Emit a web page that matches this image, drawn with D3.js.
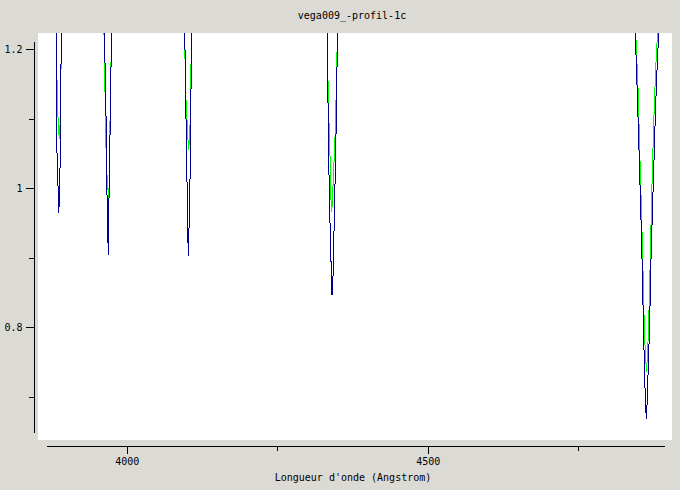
<!DOCTYPE html>
<html><head><meta charset="utf-8">
<script src="https://cdn.jsdelivr.net/npm/d3@7"></script>
<style>
html,body{margin:0;padding:0;background:#dcdad5;}
svg{display:block;}
text{font-family:"DejaVu Sans Mono",monospace;font-size:10px;fill:#000;}
</style></head>
<body>
<script>
// ---- data (wavelength in Angstrom, normalised flux); null separates the Balmer lines ----
const titleText = "vega009_-profil-1c";
const xLabel = "Longueur d'onde (Angstrom)";
const xMajorTicks = [4000, 4500];
const xMinorTicks = [4250, 4750];
const yMajorTicks = [0.8, 1.0, 1.2];
const yMinorTicks = [0.7, 0.9, 1.1];
const yTickLabels = ["0.8", "1", "1.2"];

// observed profile (blue)
const obsWave = [
  3882.8, 3883.1, 3883.4, 3886.3, 3887.1, 3888.8, 3890.1, 3891.4, 3891.7, null,
  3962.5, 3962.8, 3965.2, 3966.2, 3967.8, 3969.5, 3970.2, 3970.7, 3972.3, 3974.0, 3974.5, 3974.8, null,
  4096.6, 4096.9, 4098.5, 4100.7, 4101.9, 4102.5, 4103.2, 4103.5, 4105.2, 4106.9, 4107.2, 4107.4, null,
  4333.0, 4333.2, 4333.6, 4334.9, 4336.6, 4339.1, 4341.0, 4342.2, 4344.4, 4345.5, 4347.7, 4349.4, 4350.5, 4350.8, null,
  4844.3, 4844.8, 4848.2, 4851.0, 4854.3, 4856.5, 4858.1, 4859.8, 4861.5, 4863.1,
  4864.3, 4865.4, 4867.1, 4868.9, 4870.4, 4872.6, 4875.4, 4878.4, 4880.9, 4883.7, 4884.3
];
const obsFlux = [
  1.26, 1.2235, 1.0753, 0.9932, 0.9649, 0.9918, 1.094, 1.2235, 1.26, null,
  1.26, 1.2134, 1.1487, 1.0552, 0.9645, 0.9041, 0.9314, 0.9904, 1.0739, 1.176, 1.2235, 1.26, null,
  1.26, 1.199, 1.1026, 0.9832, 0.9213, 0.9026, 0.9213, 0.9415, 1.012, 1.1458, 1.2235, 1.26, null,
  1.26, 1.2235, 1.1875, 1.0839, 0.9904, 0.9041, 0.8465, 0.8537, 0.9401, 0.9832, 1.0767, 1.176, 1.2235, 1.26, null,
  1.26, 1.2235, 1.1343, 1.0552, 0.9545, 0.8825, 0.8135, 0.7487, 0.6969, 0.6681,
  0.6882, 0.717, 0.7602, 0.8135, 0.8825, 0.9473, 1.0264, 1.1128, 1.1703, 1.2235, 1.26
];

// synthetic profile (green)
const modWave = [
  3882.8, 3883.1, 3883.8, 3886.4, 3888.1, 3890.4, 3891.4, 3891.7, null,
  3962.0, 3962.3, 3962.8, 3966.2, 3969.0, 3969.7, 3971.0, 3971.8, 3974.0, 3974.3, 3974.6, null,
  4096.1, 4096.4, 4097.4, 4100.2, 4101.9, 4102.7, 4104.4, 4106.0, 4106.9, 4107.0, 4107.3, null,
  4332.9, 4333.2, 4333.6, 4334.9, 4337.7, 4339.4, 4340.2, 4341.4, 4343.2, 4346.5, 4348.9, 4349.9, 4350.2, null,
  4845.0, 4845.5, 4849.8, 4852.1, 4855.5, 4857.6, 4860.1, 4862.3, 4863.4,
  4864.6, 4866.8, 4868.4, 4870.1, 4871.4, 4874.2, 4876.7, 4879.7, 4882.0, 4882.6
];
const modFlux = [
  1.26, 1.2235, 1.173, 1.0888, 1.0715, 1.1084, 1.2235, 1.26, null,
  1.26, 1.2235, 1.199, 1.0336, 0.9977, 0.9847, 1.0048, 1.0696, 1.1823, 1.2235, 1.26, null,
  1.26, 1.2235, 1.1473, 1.0983, 1.0696, 1.0552, 1.0696, 1.1127, 1.1823, 1.2235, 1.26, null,
  1.26, 1.2235, 1.199, 1.1271, 1.048, 0.9832, 0.9659, 0.976, 1.012, 1.0839, 1.1703, 1.2235, 1.26, null,
  1.26, 1.2235, 1.1343, 1.0552, 0.9545, 0.8825, 0.789, 0.753, 0.7357,
  0.753, 0.7962, 0.8537, 0.9113, 0.9688, 1.0552, 1.1271, 1.1918, 1.2235, 1.26
];

// ---- drawing ----
const W = 680, H = 490;
const svg = d3.select("body").append("svg").attr("width", W).attr("height", H);

const plot = {x0: 38, y0: 33, x1: 672, y1: 440};
const x = d3.scaleLinear().domain([3866, 4892.5]).range([46, 664]);
const y = d3.scaleLinear().domain([0.6494, 1.2119]).range([432, 41]);

svg.append("rect").attr("x", plot.x0).attr("y", plot.y0)
  .attr("width", plot.x1 - plot.x0).attr("height", plot.y1 - plot.y0).attr("fill", "#fff");

svg.append("clipPath").attr("id", "clip").append("rect")
  .attr("x", plot.x0).attr("y", plot.y0)
  .attr("width", plot.x1 - plot.x0).attr("height", plot.y1 - plot.y0);

function pts(wave, flux) { return wave.map((w, i) => [w, flux[i]]); }
const line = d3.line().defined(d => d[0] !== null && d[1] !== null)
  .x(d => x(d[0])).y(d => y(d[1]));

const g = svg.append("g").attr("clip-path", "url(#clip)");
g.append("path").datum(pts(modWave, modFlux)).attr("d", line)
  .attr("fill", "none").attr("stroke", "#00ff00").attr("stroke-width", 1)
  .attr("shape-rendering", "crispEdges");
g.append("path").datum(pts(obsWave, obsFlux)).attr("d", line)
  .attr("fill", "none").attr("stroke", "#00008f").attr("stroke-width", 1)
  .attr("shape-rendering", "crispEdges");

// axes
function styleAxis(sel) {
  sel.attr("font-family", null).attr("font-size", null);
  sel.selectAll("path,line").attr("stroke", "#000").attr("shape-rendering", "crispEdges");
  sel.selectAll("text").attr("fill", "#000");
}
const yAxisX = 33.5, xAxisY = 445.5;
svg.append("g").attr("transform", `translate(${yAxisX},0)`)
  .call(d3.axisLeft(y).tickValues(yMajorTicks).tickSize(8).tickSizeOuter(0).tickPadding(3)
    .tickFormat((d, i) => yTickLabels[i]))
  .call(styleAxis);
svg.append("g").attr("transform", `translate(${yAxisX},0)`)
  .call(d3.axisLeft(y).tickValues(yMinorTicks).tickSize(5).tickSizeOuter(0).tickFormat(""))
  .call(styleAxis);
svg.append("g").attr("transform", `translate(0,${xAxisY})`)
  .call(d3.axisBottom(x).tickValues(xMajorTicks).tickSize(8).tickSizeOuter(0).tickPadding(4)
    .tickFormat(d3.format("d")))
  .call(styleAxis);
svg.append("g").attr("transform", `translate(0,${xAxisY})`)
  .call(d3.axisBottom(x).tickValues(xMinorTicks).tickSize(5).tickSizeOuter(0).tickFormat(""))
  .call(styleAxis);

svg.append("text").attr("x", 352).attr("y", 19).attr("text-anchor", "middle").text(titleText);
svg.append("text").attr("x", 353).attr("y", 481).attr("text-anchor", "middle").text(xLabel);
</script>
</body></html>
